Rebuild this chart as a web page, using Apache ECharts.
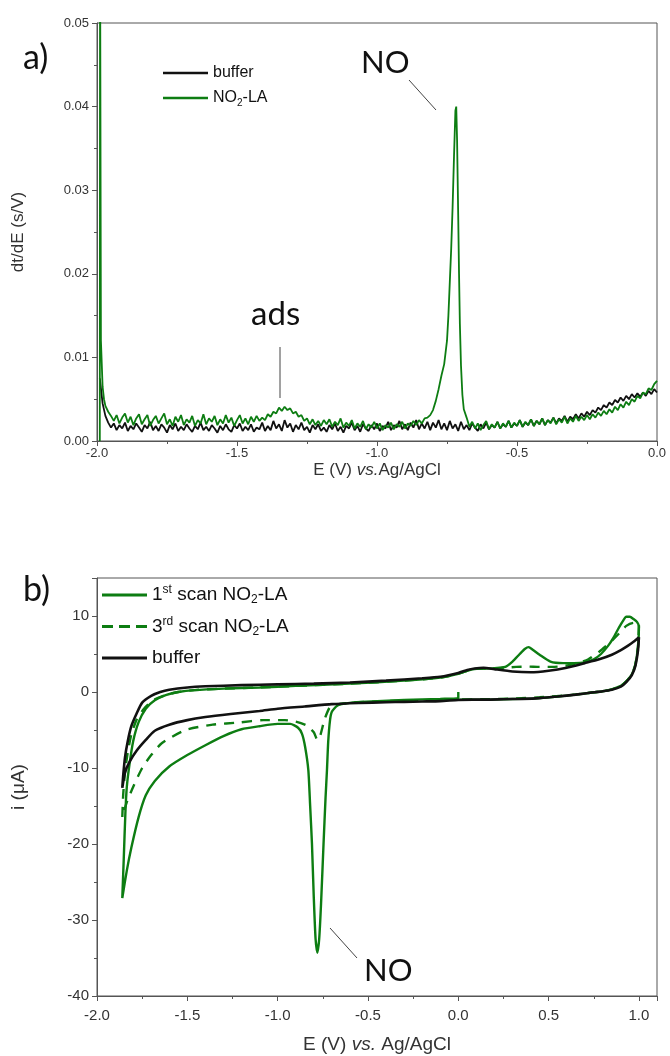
<!DOCTYPE html>
<html><head><meta charset="utf-8">
<script src="https://cdn.jsdelivr.net/npm/echarts@6/dist/echarts.min.js"></script>
<style>html,body{margin:0;padding:0;background:#fff}#c{width:670px;height:1056px}</style>
</head><body><div id="c"></div>
<script>
// ---------- Panel a) : dt/dE vs E ----------
const E_bufferA = [
-1.99,-1.98,-1.97,-1.96,-1.95,-1.94,-1.93,-1.92,-1.91,-1.90,
-1.89,-1.88,-1.87,-1.86,-1.85,-1.84,-1.83,-1.82,-1.81,-1.80,
-1.79,-1.78,-1.77,-1.76,-1.75,-1.74,-1.73,-1.72,-1.71,-1.70,
-1.69,-1.68,-1.67,-1.66,-1.65,-1.64,-1.63,-1.62,-1.61,-1.60,
-1.59,-1.58,-1.57,-1.56,-1.55,-1.54,-1.53,-1.52,-1.51,-1.50,
-1.49,-1.48,-1.47,-1.46,-1.45,-1.44,-1.43,-1.42,-1.41,-1.40,
-1.39,-1.38,-1.37,-1.36,-1.35,-1.34,-1.33,-1.32,-1.31,-1.30,
-1.29,-1.28,-1.27,-1.26,-1.25,-1.24,-1.23,-1.22,-1.21,-1.20,
-1.19,-1.18,-1.17,-1.16,-1.15,-1.14,-1.13,-1.12,-1.11,-1.10,
-1.09,-1.08,-1.07,-1.06,-1.05,-1.04,-1.03,-1.02,-1.01,-1.00,
-0.99,-0.98,-0.97,-0.96,-0.95,-0.94,-0.93,-0.92,-0.91,-0.90,
-0.89,-0.88,-0.87,-0.86,-0.85,-0.84,-0.83,-0.82,-0.81,-0.80,
-0.79,-0.78,-0.77,-0.76,-0.75,-0.74,-0.73,-0.72,-0.71,-0.70,
-0.69,-0.68,-0.67,-0.66,-0.65,-0.64,-0.63,-0.62,-0.61,-0.60,
-0.59,-0.58,-0.57,-0.56,-0.55,-0.54,-0.53,-0.52,-0.51,-0.50,
-0.49,-0.48,-0.47,-0.46,-0.45,-0.44,-0.43,-0.42,-0.41,-0.40,
-0.39,-0.38,-0.37,-0.36,-0.35,-0.34,-0.33,-0.32,-0.31,-0.30,
-0.29,-0.28,-0.27,-0.26,-0.25,-0.24,-0.23,-0.22,-0.21,-0.20,
-0.19,-0.18,-0.17,-0.16,-0.15,-0.14,-0.13,-0.12,-0.11,-0.10,
-0.09,-0.08,-0.07,-0.06,-0.05,-0.04,-0.03,-0.02,-0.01,0.00];
const dtdE_bufferA = [
.0075,.0045,.0030,.0022,.0016,.0021,.0013,.0019,.0015,.0022,
.0012,.0018,.0014,.0021,.0016,.0011,.0019,.0015,.0023,.0013,
.0018,.0012,.0020,.0016,.0010,.0019,.0014,.0021,.0012,.0017,
.0013,.0020,.0015,.0011,.0018,.0014,.0022,.0013,.0017,.0012,
.0019,.0015,.0010,.0018,.0013,.0020,.0014,.0011,.0019,.0015,
.0021,.0012,.0017,.0013,.0020,.0011,.0016,.0014,.0022,.0012,
.0018,.0013,.0024,.0015,.0020,.0012,.0025,.0016,.0021,.0011,
.0019,.0014,.0022,.0013,.0017,.0010,.0019,.0014,.0020,.0012,
.0016,.0011,.0019,.0014,.0021,.0012,.0017,.0010,.0018,.0015,
.0022,.0013,.0018,.0011,.0020,.0015,.0012,.0019,.0014,.0021,
.0012,.0018,.0015,.0023,.0013,.0019,.0016,.0024,.0014,.0020,
.0013,.0022,.0016,.0025,.0014,.0021,.0015,.0023,.0013,.0022,
.0016,.0025,.0014,.0021,.0013,.0024,.0015,.0020,.0012,.0023,
.0014,.0019,.0013,.0021,.0016,.0012,.0020,.0015,.0022,.0014,
.0019,.0016,.0023,.0015,.0020,.0017,.0024,.0016,.0021,.0018,
.0025,.0017,.0022,.0019,.0026,.0018,.0024,.0020,.0027,.0019,
.0025,.0022,.0028,.0021,.0027,.0024,.0030,.0023,.0029,.0026,
.0032,.0027,.0033,.0029,.0035,.0031,.0037,.0034,.0040,.0037,
.0043,.0040,.0046,.0043,.0049,.0046,.0052,.0048,.0054,.0050,
.0056,.0052,.0057,.0053,.0058,.0054,.0060,.0056,.0062,.0058];

const E_no2laA = [
-1.99,-1.989,-1.986,-1.98,-1.975,-1.97,-1.96,-1.95,
-1.94,-1.93,-1.92,-1.91,-1.90,-1.89,-1.88,-1.87,-1.86,-1.85,
-1.84,-1.83,-1.82,-1.81,-1.80,-1.79,-1.78,-1.77,-1.76,-1.75,
-1.74,-1.73,-1.72,-1.71,-1.70,-1.69,-1.68,-1.67,-1.66,-1.65,
-1.64,-1.63,-1.62,-1.61,-1.60,-1.59,-1.58,-1.57,-1.56,-1.55,
-1.54,-1.53,-1.52,-1.51,-1.50,-1.49,-1.48,-1.47,-1.46,-1.45,
-1.44,-1.43,-1.42,-1.41,-1.40,-1.39,-1.38,-1.37,-1.36,-1.35,
-1.34,-1.33,-1.32,-1.31,-1.30,-1.29,-1.28,-1.27,-1.26,-1.25,
-1.24,-1.23,-1.22,-1.21,-1.20,-1.19,-1.18,-1.17,-1.16,-1.15,
-1.14,-1.13,-1.12,-1.11,-1.10,-1.09,-1.08,-1.07,-1.06,-1.05,
-1.04,-1.03,-1.02,-1.01,-1.00,-0.99,-0.98,-0.97,-0.96,-0.95,
-0.94,-0.93,-0.92,-0.91,-0.90,-0.89,-0.88,-0.87,-0.86,-0.85,
-0.84,-0.83,-0.82,-0.81,-0.80,-0.79,-0.78,-0.77,-0.76,-0.75,
-0.745,-0.74,-0.735,-0.73,-0.725,-0.72,-0.717,-0.714,-0.71,-0.707,-0.704,-0.70,-0.695,-0.69,
-0.68,-0.67,-0.66,-0.65,-0.64,-0.63,-0.62,-0.61,-0.60,-0.59,
-0.58,-0.57,-0.56,-0.55,-0.54,-0.53,-0.52,-0.51,-0.50,-0.49,
-0.48,-0.47,-0.46,-0.45,-0.44,-0.43,-0.42,-0.41,-0.40,-0.39,
-0.38,-0.37,-0.36,-0.35,-0.34,-0.33,-0.32,-0.31,-0.30,-0.29,
-0.28,-0.27,-0.26,-0.25,-0.24,-0.23,-0.22,-0.21,-0.20,-0.19,
-0.18,-0.17,-0.16,-0.15,-0.14,-0.13,-0.12,-0.11,-0.10,-0.09,
-0.08,-0.07,-0.06,-0.05,-0.04,-0.03,-0.02,-0.01,0.00];
const dtdE_no2laA = [
0,.06,.012,.0065,.005,.0042,.0035,.0030,
.0024,.0031,.0021,.0028,.0033,.0022,.0029,.0019,.0027,.0032,
.0020,.0026,.0031,.0018,.0025,.0030,.0021,.0027,.0033,.0020,
.0026,.0018,.0029,.0023,.0031,.0019,.0026,.0022,.0030,.0018,
.0025,.0021,.0032,.0020,.0027,.0023,.0030,.0019,.0026,.0021,
.0031,.0022,.0028,.0018,.0025,.0031,.0021,.0027,.0020,.0029,
.0023,.0030,.0024,.0028,.0025,.0032,.0029,.0035,.0033,.0040,
.0036,.0041,.0037,.0039,.0033,.0035,.0029,.0031,.0024,.0027,
.0020,.0026,.0019,.0024,.0018,.0025,.0020,.0026,.0017,.0023,
.0019,.0027,.0016,.0022,.0018,.0025,.0015,.0021,.0017,.0024,
.0014,.0020,.0016,.0023,.0015,.0021,.0013,.0019,.0016,.0022,
.0014,.0020,.0017,.0023,.0015,.0021,.0018,.0024,.0019,.0025,
.0021,.0027,.0028,.0031,.0037,.0048,.0062,.0078,.0092,.0120,
.0150,.0190,.0230,.0280,.0340,.0395,.0400,.0360,.0270,.0200,.0140,.0090,.0055,.0038,
.0028,.0017,.0023,.0015,.0021,.0013,.0019,.0024,.0014,.0020,
.0016,.0023,.0015,.0021,.0017,.0024,.0016,.0022,.0018,.0025,
.0017,.0023,.0019,.0026,.0018,.0024,.0020,.0027,.0019,.0025,
.0021,.0028,.0020,.0026,.0022,.0029,.0021,.0027,.0023,.0030,
.0024,.0029,.0025,.0031,.0026,.0032,.0028,.0034,.0030,.0036,
.0032,.0038,.0034,.0041,.0037,.0044,.0040,.0047,.0043,.0050,
.0047,.0054,.0051,.0058,.0056,.0063,.0061,.0068,.0072];

// ---------- Panel b) : cyclic voltammograms ----------
const E_scan1 = [0.00,0.00,-0.10,-0.30,-0.54,-0.62,-0.67,-0.70,-0.71,-0.72,-0.727,-0.735,-0.746,-0.76,-0.77,-0.78,-0.79,-0.80,-0.81,-0.82,-0.83,-0.848,-0.865,-0.887,-0.93,-1.00,-1.10,-1.20,-1.30,-1.40,-1.50,-1.60,-1.68,-1.73,-1.77,-1.81,-1.835,-1.86,
 -1.852,-1.843,-1.835,-1.82,-1.80,-1.77,-1.73,-1.68,-1.62,-1.55,-1.46,-1.30,-1.10,-0.90,-0.60,-0.30,-0.10,0.00,0.08,0.18,0.26,0.30,0.34,0.37,0.39,0.41,0.45,0.51,0.58,0.64,0.70,0.75,0.79,0.83,0.86,0.89,0.91,0.93,0.95,0.97,0.99,1.00,
 0.995,0.98,0.96,0.93,0.90,0.85,0.80,0.73,0.65,0.55,0.45,0.35,0.25,0.15,0.05,0.00];
const i_scan1 = [0.0,-0.8,-0.9,-1.05,-1.3,-1.5,-1.8,-2.6,-3.7,-6.5,-10.3,-14,-20,-28,-32.5,-34.3,-32.5,-27,-20,-15,-10.3,-7.2,-5.5,-4.7,-4.2,-4.2,-4.5,-4.9,-5.8,-7.0,-8.3,-9.8,-11.7,-13.6,-16.5,-20.5,-23.5,-27.1,
 -22,-16,-12.5,-9.5,-6.5,-4.0,-2.2,-1.1,-0.4,0.0,0.25,0.45,0.6,0.8,1.1,1.5,1.9,2.4,3.0,3.1,3.3,4.0,5.0,5.7,5.9,5.6,4.9,4.0,3.8,3.8,3.9,4.3,5.0,6.1,7.2,8.5,9.3,9.9,9.9,9.6,9.2,8.6,
 6.0,3.6,2.3,1.4,0.8,0.35,0.1,-0.1,-0.35,-0.6,-0.8,-0.9,-0.95,-1.0,-1.0,-1.0];

const E_scan3 = [1.00,0.995,0.98,0.96,0.93,0.90,0.85,0.80,0.73,0.60,0.45,0.30,0.15,0.00,-0.20,-0.40,-0.55,-0.65,-0.71,-0.74,-0.765,-0.78,-0.80,-0.84,-0.90,-0.96,-1.08,-1.21,-1.36,-1.51,-1.64,-1.70,-1.75,-1.80,-1.835,-1.86,
 -1.855,-1.845,-1.83,-1.81,-1.78,-1.74,-1.69,-1.62,-1.55,-1.46,-1.30,-1.10,-0.90,-0.60,-0.30,-0.10,0.00,0.08,0.18,0.26,0.32,0.38,0.45,0.52,0.58,0.65,0.72,0.78,0.84,0.89,0.93,0.97,1.00];
const i_scan3 = [8.8,6.0,3.6,2.3,1.4,0.8,0.35,0.1,-0.1,-0.45,-0.7,-0.85,-0.95,-1.0,-1.1,-1.2,-1.35,-1.55,-2.0,-3.6,-5.8,-6.3,-5.3,-4.4,-3.9,-3.7,-3.7,-4.0,-4.3,-5.0,-6.7,-8.3,-10.0,-12.5,-14.5,-16.5,
 -13.5,-10.5,-8.0,-5.6,-3.6,-2.2,-1.1,-0.4,0.0,0.25,0.45,0.6,0.8,1.1,1.5,1.9,2.4,3.0,3.1,3.2,3.3,3.35,3.3,3.3,3.4,3.7,4.3,5.3,6.5,7.7,8.7,9.1,8.8];

const E_bufferB = [1.00,0.995,0.98,0.96,0.93,0.90,0.85,0.80,0.73,0.65,0.55,0.45,0.35,0.25,0.15,0.08,0.00,-0.10,-0.20,-0.30,-0.40,-0.55,-0.70,-0.85,-1.00,-1.10,-1.26,-1.40,-1.50,-1.60,-1.68,-1.73,-1.78,-1.82,-1.845,-1.86,
 -1.855,-1.845,-1.83,-1.81,-1.78,-1.75,-1.70,-1.65,-1.60,-1.50,-1.40,-1.20,-1.00,-0.80,-0.60,-0.40,-0.20,-0.10,0.00,0.05,0.09,0.14,0.20,0.30,0.40,0.50,0.60,0.70,0.78,0.85,0.90,0.94,0.97,1.00];
const i_bufferB = [7.2,5.5,3.4,2.2,1.3,0.7,0.3,0.1,-0.1,-0.35,-0.6,-0.8,-0.9,-0.95,-1.0,-1.0,-1.05,-1.2,-1.25,-1.3,-1.35,-1.45,-1.6,-1.9,-2.2,-2.5,-2.9,-3.3,-3.7,-4.3,-5.1,-6.3,-7.7,-9.2,-10.6,-12.6,
 -11.0,-8.6,-6.5,-4.5,-2.8,-1.4,-0.5,0.0,0.3,0.6,0.75,0.9,1.0,1.1,1.25,1.5,1.8,2.0,2.5,2.9,3.1,3.2,3.0,2.7,2.6,2.8,3.2,3.8,4.3,4.9,5.5,6.1,6.6,7.2];

// tick values / labels
const ticksA_x = {min:-2, max:0, interval:0.5};
const ticksA_y = {min:0, max:0.05, interval:0.01};
const ticksB_x = {min:-2, max:1.1, interval:0.5};
const ticksB_y = {min:-40, max:15, interval:10};

const legendLabels = {
  bufferA: 'buffer', no2laA: 'NO{sub|2}-LA',
  scan1: '1{sup|st} scan NO{sub|2}-LA', scan3: '3{sup|rd} scan NO{sub|2}-LA', bufferB: 'buffer'
};

function zip(xs, ys){ return xs.map((x,i)=>[x, ys[i]]); }

const GREEN = '#0d7d12';
const BLACK = '#111111';
const AX = '#555555';
const FONT = 'Liberation Sans, Arial, sans-serif';
const ANNO = 'Lato, "Open Sans", sans-serif';
const SOLID_ICON = 'rect';
const DASH_ICON = 'path://M0,0h11v1h-11zM17,0h11v1h-11zM34,0h11v1h-11z';

function xAxisCfg(grid, t, title, fs, tfs, labelMargin, nameGap, fmt){
  return {
    type:'value', gridIndex:grid, min:t.min, max:t.max, interval:t.interval,
    axisLine:{show:true, onZero:false, lineStyle:{color:AX, width:1}},
    axisTick:{show:true, inside:false, length:5, lineStyle:{color:AX}},
    minorTick:{show:true, splitNumber:2, length:3, lineStyle:{color:AX}},
    splitLine:{show:false}, minorSplitLine:{show:false},
    axisLabel:{formatter:fmt, fontSize:fs, color:'#333', margin:labelMargin, fontFamily:FONT},
    name:title, nameLocation:'middle', nameGap:nameGap,
    nameTextStyle:{fontSize:tfs, color:'#333', fontFamily:FONT,
      rich:{it:{fontStyle:'italic', fontSize:tfs, color:'#333', fontFamily:FONT}}}
  };
}
function yAxisCfg(grid, t, title, fs, tfs, nameGap, fmt){
  return {
    type:'value', gridIndex:grid, min:t.min, max:t.max, interval:t.interval,
    axisLine:{show:true, onZero:false, lineStyle:{color:AX, width:1}},
    axisTick:{show:true, inside:false, length:5, lineStyle:{color:AX}},
    minorTick:{show:true, splitNumber:2, length:3, lineStyle:{color:AX}},
    splitLine:{show:false}, minorSplitLine:{show:false},
    axisLabel:{formatter:fmt, fontSize:fs, color:'#333', margin:8, fontFamily:FONT},
    name:title, nameLocation:'middle', nameGap:nameGap,
    nameTextStyle:{fontSize:tfs, color:'#333', fontFamily:FONT}
  };
}
function legendText(fs, lh){
  return {
    fontSize:fs, color:'#111', fontFamily:FONT, lineHeight:lh,
    rich:{
      sup:{fontSize:Math.round(fs*0.62), lineHeight:Math.round(lh*0.5), verticalAlign:'top', color:'#111', fontFamily:FONT},
      sub:{fontSize:Math.round(fs*0.62), lineHeight:Math.round(lh*0.5), verticalAlign:'bottom', color:'#111', fontFamily:FONT}
    }
  };
}

const chart = echarts.init(document.getElementById('c'), null, {renderer:'canvas'});
chart.setOption({
  animation:false,
  backgroundColor:'#ffffff',
  grid:[
    {left:97, top:23, width:560, height:418, show:true, borderColor:AX, borderWidth:1, backgroundColor:'transparent'},
    {left:97, top:578, width:560, height:418, show:true, borderColor:AX, borderWidth:1, backgroundColor:'transparent'}
  ],
  xAxis:[
    xAxisCfg(0, ticksA_x, 'E (V) {it|vs.}Ag/AgCl', 13, 17, 6, 21, v=>v.toFixed(1)),
    xAxisCfg(1, ticksB_x, 'E (V) {it|vs.} Ag/AgCl', 15, 19, 12, 39,
      v=> Math.abs(v*2 - Math.round(v*2))<1e-6 ? v.toFixed(1) : '')
  ],
  yAxis:[
    yAxisCfg(0, ticksA_y, 'dt/dE (s/V)', 13, 17, 70, v=>v.toFixed(2)),
    yAxisCfg(1, ticksB_y, 'i (\u03bcA)', 15, 19, 69, v=> (v%10===0 ? String(v) : ''))
  ],
  legend:[
    {data:[{name:'bufferA', icon:SOLID_ICON},{name:'no2laA', icon:SOLID_ICON}],
     orient:'vertical', left:163, top:63, padding:0, itemWidth:45, itemHeight:2.4, itemGap:5,
     symbolKeepAspect:false,
     itemStyle:{borderWidth:0}, formatter:n=>legendLabels[n], textStyle:legendText(16,20), selectedMode:false},
    {data:[{name:'scan1', icon:SOLID_ICON},{name:'scan3', icon:DASH_ICON},{name:'bufferB', icon:SOLID_ICON}],
     orient:'vertical', left:102, top:584, padding:0, itemWidth:45, itemHeight:2.8, itemGap:9.5,
     symbolKeepAspect:false,
     itemStyle:{borderWidth:0}, formatter:n=>legendLabels[n], textStyle:legendText(19,22), selectedMode:false}
  ],
  series:[
    {name:'bufferA', type:'line', xAxisIndex:0, yAxisIndex:0, data:zip(E_bufferA, dtdE_bufferA),
     symbol:'none', showSymbol:false, lineStyle:{color:BLACK, width:1.8}, itemStyle:{color:BLACK}},
    {name:'no2laA', type:'line', xAxisIndex:0, yAxisIndex:0, data:zip(E_no2laA, dtdE_no2laA),
     symbol:'none', showSymbol:false, lineStyle:{color:GREEN, width:1.8}, itemStyle:{color:GREEN}},
    {name:'scan1', type:'line', xAxisIndex:1, yAxisIndex:1, data:zip(E_scan1, i_scan1),
     symbol:'none', showSymbol:false, smooth:0.2, lineStyle:{color:GREEN, width:2.4}, itemStyle:{color:GREEN}},
    {name:'scan3', type:'line', xAxisIndex:1, yAxisIndex:1, data:zip(E_scan3, i_scan3),
     symbol:'none', showSymbol:false, smooth:0.2, lineStyle:{color:GREEN, width:2.4, type:[10,8]}, itemStyle:{color:GREEN}},
    {name:'bufferB', type:'line', xAxisIndex:1, yAxisIndex:1, data:zip(E_bufferB, i_bufferB),
     symbol:'none', showSymbol:false, smooth:0.2, lineStyle:{color:BLACK, width:2.6}, itemStyle:{color:BLACK}}
  ],
  graphic:[
    {type:'text', left:23, top:41, style:{text:'a)', font:'34px '+ANNO, fill:'#111'}},
    {type:'text', left:23, top:573, style:{text:'b)', font:'34px '+ANNO, fill:'#111'}},
    {type:'text', left:361, top:47, style:{text:'NO', font:'31px '+ANNO, fill:'#111'}},
    {type:'line', shape:{x1:409, y1:80, x2:436, y2:110}, style:{stroke:'#444', lineWidth:1}},
    {type:'text', left:251, top:298, style:{text:'ads', font:'33px '+ANNO, fill:'#111'}},
    {type:'line', shape:{x1:280, y1:347, x2:280, y2:398}, style:{stroke:'#444', lineWidth:1}},
    {type:'text', left:364, top:955, style:{text:'NO', font:'31px '+ANNO, fill:'#111'}},
    {type:'line', shape:{x1:330, y1:928, x2:357, y2:958}, style:{stroke:'#444', lineWidth:1}}
  ]
});
</script></body></html>
